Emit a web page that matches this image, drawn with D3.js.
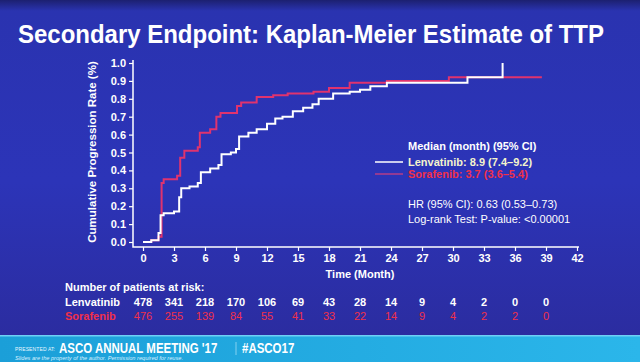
<!DOCTYPE html>
<html>
<head>
<meta charset="utf-8">
<script src="https://cdn.jsdelivr.net/npm/d3@7"></script>
<style>
  body { margin: 0; background: #2a2fa8; }
  svg { display: block; font-family: "Liberation Sans", Arial, sans-serif; }
</style>
</head>
<body>
<div id="area"></div>
<script>
// step points
const lenvaTimes = [0, 0.8, 1.5, 1.7, 2.0, 3.0, 3.5, 3.7, 4.5, 5.3, 5.6, 6.5, 7.3, 7.6, 8.5, 9.0, 9.3, 10.2, 11.0, 12.0, 12.8, 13.5, 14.5, 15.5, 16.4, 17.0, 18.4, 20.0, 21.0, 22.0, 23.6, 31.4, 34.8]
const lenvaRates = [0, 0.01, 0.05, 0.15, 0.16, 0.17, 0.25, 0.30, 0.31, 0.33, 0.39, 0.41, 0.43, 0.49, 0.50, 0.52, 0.59, 0.61, 0.63, 0.66, 0.69, 0.70, 0.73, 0.75, 0.77, 0.80, 0.83, 0.84, 0.85, 0.87, 0.89, 0.92, 1.0]
const soraTimes = [0, 0.8, 1.5, 1.8, 2.0, 3.3, 3.6, 4.0, 5.3, 5.5, 6.5, 7.1, 7.5, 9.1, 9.5, 11.0, 12.6, 14.0, 16.5, 18.0, 20.0, 23.6, 29.6, 38.6]
const soraRates = [0, 0.01, 0.03, 0.33, 0.35, 0.37, 0.47, 0.51, 0.53, 0.61, 0.63, 0.70, 0.72, 0.76, 0.78, 0.81, 0.82, 0.83, 0.84, 0.86, 0.89, 0.90, 0.92, 0.92]

const monthTicks = [0, 3, 6, 9, 12, 15, 18, 21, 24, 27, 30, 33, 36, 39, 42]
const rateTicks = [0, 0.1, 0.2, 0.3, 0.4, 0.5, 0.6, 0.7, 0.8, 0.9, 1.0]
const riskMonths = [0, 3, 6, 9, 12, 15, 18, 21, 24, 27, 30, 33, 36, 39]
const lenvaRisk = [478, 341, 218, 170, 106, 69, 43, 28, 14, 9, 4, 2, 0, 0]
const soraRisk = [476, 255, 139, 84, 55, 41, 33, 22, 14, 9, 4, 2, 2, 0]

const W = 640, H = 362
const svg = d3.select('#area').append('svg')
  .attr('width', W).attr('height', H)

const defs = svg.append('defs')
const bg = defs.append('linearGradient').attr('id', 'bg')
  .attr('x1', 0).attr('y1', 0).attr('x2', 0).attr('y2', 1)
bg.append('stop').attr('offset', '0').attr('stop-color', '#1c2070')
bg.append('stop').attr('offset', '0.03').attr('stop-color', '#2a33b0')
bg.append('stop').attr('offset', '0.5').attr('stop-color', '#2c34b8')
bg.append('stop').attr('offset', '1').attr('stop-color', '#2b2b9c')
const ban = defs.append('linearGradient').attr('id', 'ban')
  .attr('x1', 0).attr('y1', 0).attr('x2', 1).attr('y2', 0)
ban.append('stop').attr('offset', '0').attr('stop-color', '#1b9fd8')
ban.append('stop').attr('offset', '1').attr('stop-color', '#2bb6ea')

svg.append('rect').attr('width', W).attr('height', H).attr('fill', 'url(#bg)')
svg.append('rect').attr('y', 336).attr('width', W).attr('height', 26).attr('fill', 'url(#ban)')
svg.append('rect').attr('y', 335).attr('width', W).attr('height', 1.5).attr('fill', '#6fd0f5')

// title
svg.append('text')
  .attr('x', 18).attr('y', 43)
  .attr('textLength', 586).attr('lengthAdjust', 'spacingAndGlyphs')
  .attr('fill', '#fff').attr('font-size', 25).attr('font-weight', 'bold')
  .text('Secondary Endpoint: Kaplan-Meier Estimate of TTP')

const x = d3.scaleLinear().domain([0, 42]).range([143, 577])
const y = d3.scaleLinear().domain([0, 1]).range([242, 63])

// axes
const yAxis = svg.append('g').attr('transform', 'translate(133,0)')
  .call(d3.axisLeft(y).tickValues(rateTicks).tickSize(4).tickPadding(3).tickFormat(d3.format('.1f')))
const xAxis = svg.append('g').attr('transform', 'translate(0,247)')
  .call(d3.axisBottom(x).tickValues(monthTicks).tickSize(4).tickPadding(3))
yAxis.select('.domain').remove()
xAxis.select('.domain').remove()
svg.append('path').attr('d', 'M133,60V247H579').attr('fill', 'none').attr('stroke', '#fff').attr('stroke-width', 1.5)
svg.selectAll('.tick line').attr('stroke', '#fff').attr('stroke-width', 1.2)
svg.selectAll('.tick text')
  .attr('fill', '#fff').attr('font-size', 11).attr('font-weight', 'bold')
  .attr('font-family', '"Liberation Sans", Arial, sans-serif')

svg.append('text')
  .attr('transform', 'translate(96,152) rotate(-90)')
  .attr('text-anchor', 'middle').attr('fill', '#fff')
  .attr('font-size', 11.5).attr('font-weight', 'bold')
  .text('Cumulative Progression Rate (%)')

svg.append('text')
  .attr('x', 360).attr('y', 278).attr('text-anchor', 'middle')
  .attr('fill', '#fff').attr('font-size', 11).attr('font-weight', 'bold')
  .text('Time (Month)')

// curves
const line = d3.line()
  .x(d => x(d[0]))
  .y(d => y(d[1]))
  .curve(d3.curveStepAfter)

svg.append('path')
  .datum(d3.zip(soraTimes, soraRates))
  .attr('d', line).attr('fill', 'none')
  .attr('stroke', '#e0336e').attr('stroke-width', 2)
svg.append('path')
  .datum(d3.zip(lenvaTimes, lenvaRates))
  .attr('d', line).attr('fill', 'none')
  .attr('stroke', '#fff').attr('stroke-width', 2)

// legend
const lg = svg.append('g').attr('font-size', 11)
lg.append('text').attr('x', 408).attr('y', 150).attr('fill', '#fff').attr('font-weight', 'bold')
  .text('Median (month) (95% CI)')
lg.append('line').attr('x1', 375).attr('x2', 403).attr('y1', 162).attr('y2', 162)
  .attr('stroke', '#fff').attr('stroke-width', 1.5)
lg.append('text').attr('x', 408).attr('y', 166).attr('fill', '#f4f4cc').attr('font-weight', 'bold')
  .text('Lenvatinib: 8.9 (7.4–9.2)')
lg.append('line').attr('x1', 375).attr('x2', 403).attr('y1', 174).attr('y2', 174)
  .attr('stroke', '#d8407c').attr('stroke-width', 1.2)
lg.append('text').attr('x', 408).attr('y', 178).attr('fill', '#f0304a').attr('font-weight', 'bold')
  .text('Sorafenib: 3.7 (3.6–5.4)')
lg.append('text').attr('x', 408).attr('y', 208).attr('fill', '#fff')
  .text('HR (95% CI): 0.63 (0.53–0.73)')
lg.append('text').attr('x', 408).attr('y', 223).attr('fill', '#fff')
  .text('Log-rank Test: P-value: <0.00001')

// risk table
const rt = svg.append('g').attr('font-size', 11).attr('font-weight', 'bold')
rt.append('text').attr('x', 65).attr('y', 291).attr('fill', '#fff')
  .text('Number of patients at risk:')
rt.append('text').attr('x', 65).attr('y', 306).attr('fill', '#fff').text('Lenvatinib')
rt.append('text').attr('x', 65).attr('y', 320).attr('fill', '#f0304a').text('Sorafenib')
rt.selectAll('.lr').data(lenvaRisk).enter().append('text')
  .attr('class', 'lr')
  .attr('x', (d, i) => x(riskMonths[i])).attr('y', 306)
  .attr('text-anchor', 'middle').attr('fill', '#fff')
  .text(d => d)
rt.selectAll('.sr').data(soraRisk).enter().append('text')
  .attr('class', 'sr')
  .attr('x', (d, i) => x(riskMonths[i])).attr('y', 320)
  .attr('text-anchor', 'middle').attr('fill', '#f0304a')
  .attr('font-weight', 'normal')
  .text(d => d)

// banner
svg.append('text').attr('x', 15).attr('y', 351).attr('fill', '#e8f6ff')
  .attr('font-size', 5).attr('textLength', 40).text('PRESENTED AT:')
svg.append('text').attr('transform', 'translate(59,353) scale(0.82,1)')
  .attr('fill', '#fff').attr('font-size', 14).attr('font-weight', 'bold')
  .text("ASCO ANNUAL MEETING '17")
svg.append('line').attr('x1', 236).attr('x2', 236).attr('y1', 342).attr('y2', 355)
  .attr('stroke', '#9fdcf5').attr('stroke-width', 0.8)
svg.append('text').attr('transform', 'translate(242,353) scale(0.82,1)')
  .attr('fill', '#fff').attr('font-size', 14).attr('font-weight', 'bold')
  .text('#ASCO17')
svg.append('text').attr('x', 15).attr('y', 359.5).attr('fill', '#d8f0ff')
  .attr('font-size', 4.5).attr('font-style', 'italic')
  .attr('textLength', 168).attr('lengthAdjust', 'spacingAndGlyphs')
  .text('Slides are the property of the author. Permission required for reuse.')
</script>
</body>
</html>
